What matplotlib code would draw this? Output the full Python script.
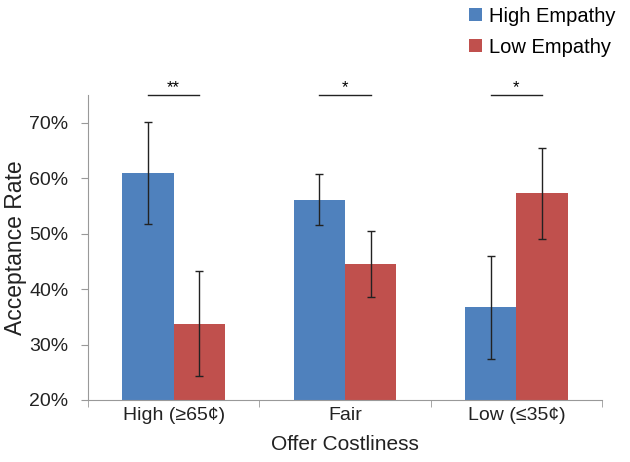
import numpy as np
import matplotlib.pyplot as plt

plt.rcParams['font.family'] = ['Liberation Sans', 'DejaVu Sans']

categories = ['High (≥65¢)', 'Fair', 'Low (≤35¢)']
high_emp = [61.0, 56.1, 36.7]
high_err = [9.2, 4.6, 9.3]
low_emp = [33.8, 44.5, 57.3]
low_err = [9.5, 6.0, 8.2]
sig = ['**', '*', '*']

fig = plt.figure(figsize=(6.3, 4.62), dpi=100)
ax = fig.add_axes([0.1397, 0.1342, 0.8159, 0.6598])

x = np.arange(len(categories))
w = 0.3
ekw = dict(ecolor='#222222', elinewidth=1, capsize=3, capthick=1)
ax.bar(x - w/2, high_emp, w, yerr=high_err, color='#4F81BD', label='High Empathy', error_kw=ekw)
ax.bar(x + w/2, low_emp, w, yerr=low_err, color='#C0504D', label='Low Empathy', error_kw=ekw)

# significance markers
for i, s in enumerate(sig):
    ax.plot([x[i] - 0.15, x[i] + 0.15], [75, 75], color='#222222', lw=1, clip_on=False)
    ax.text(x[i], 75.0, s, ha='center', va='bottom', fontsize=12)

ax.set_xlim(-0.5, 2.5)
ax.set_ylim(20, 75)
ax.set_yticks([20, 30, 40, 50, 60, 70])
ax.set_yticklabels(['20%', '30%', '40%', '50%', '60%', '70%'])
ax.set_xticks(x)
ax.set_xticklabels(categories)
ax.set_xticks([-0.5, 0.5, 1.5, 2.5], minor=True)
ax.tick_params(axis='x', which='major', length=0, labelsize=14, pad=5, colors='#222222')
ax.tick_params(axis='x', which='minor', length=5, color='#999999')
ax.tick_params(axis='y', length=5, labelsize=14, pad=9, colors='#222222')
ax.tick_params(axis='y', color='#999999')

for sp in ['top', 'right']:
    ax.spines[sp].set_visible(False)
for sp in ['left', 'bottom']:
    ax.spines[sp].set_color('#999999')

ax.set_xlabel('Offer Costliness', fontsize=15, color='#222222', labelpad=8)
ax.set_ylabel('Acceptance Rate', fontsize=16.5, color='#222222', labelpad=2)

fig.legend(loc='upper left', bbox_to_anchor=(0.715, 1.025), frameon=False, fontsize=14.5,
           handlelength=0.65, handleheight=0.65, handletextpad=0.35, labelspacing=0.6)

fig.savefig('out.png', dpi=100)
